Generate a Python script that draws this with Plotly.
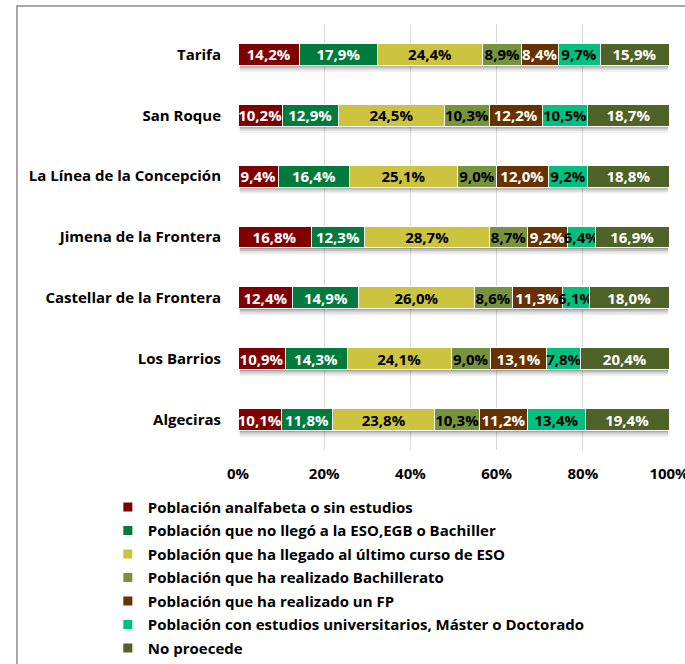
import plotly.graph_objects as go

# Municipalities (top to bottom)
municipios = [
    "Tarifa",
    "San Roque",
    "La Línea de la Concepción",
    "Jimena de la Frontera",
    "Castellar de la Frontera",
    "Los Barrios",
    "Algeciras",
]

# Education level shares (%) per municipality
analfabeta = [14.2, 10.2, 9.4, 16.8, 12.4, 10.9, 10.1]
no_eso = [17.9, 12.9, 16.4, 12.3, 14.9, 14.3, 11.8]
ultimo_eso = [24.4, 24.5, 25.1, 28.7, 26.0, 24.1, 23.8]
bachillerato = [8.9, 10.3, 9.0, 8.7, 8.6, 9.0, 10.3]
fp = [8.4, 12.2, 12.0, 9.2, 11.3, 13.1, 11.2]
universitarios = [9.7, 10.5, 9.2, 6.4, 6.1, 7.8, 13.4]
no_procede = [15.9, 18.7, 18.8, 16.9, 18.0, 20.4, 19.4]

series_names = [
    "Población analfabeta o sin estudios",
    "Población que no llegó a la ESO,EGB o Bachiller",
    "Población que ha llegado al último curso de ESO",
    "Población que ha realizado Bachillerato",
    "Población que ha realizado un FP",
    "Población con estudios universitarios, Máster o Doctorado",
    "No proecede",
]
series_values = [analfabeta, no_eso, ultimo_eso, bachillerato, fp, universitarios, no_procede]
series_colors = ["#7F0000", "#007A3D", "#CCC43E", "#77933C", "#663300", "#00C080", "#4F6228"]
label_colors = ["white", "white", "black", "black", "white", "black", "white"]

x_ticks = [0, 20, 40, 60, 80, 100]

FONT = "Open Sans"

fig = go.Figure()

for name, vals, col, tcol in zip(series_names, series_values, series_colors, label_colors):
    fig.add_trace(go.Bar(
        y=municipios,
        x=vals,
        orientation="h",
        name=name,
        marker=dict(color=col, line=dict(color="white", width=1)),
        text=[f"{v:.1f}%".replace(".", ",") for v in vals],
        textposition="inside",
        insidetextanchor="middle",
        constraintext="none",
        textangle=0,
        textfont=dict(family=FONT, size=15, color=tcol, weight="bold"),
        showlegend=False,
        hoverinfo="skip",
    ))

# Legend entries with small square swatches
for name, col in zip(series_names, series_colors):
    fig.add_trace(go.Scatter(
        x=[None], y=[None], mode="markers", name=name,
        legendgroup=name,
        marker=dict(symbol="square", size=9, color=col),
        showlegend=True,
    ))

# Soft drop shadow under each bar
half = 0.18
shadow_layers = [(0.02, 0.18), (0.05, 0.12), (0.08, 0.08), (0.11, 0.05)]
shapes = []
for i, _ in enumerate(municipios):
    for ext, op in shadow_layers:
        shapes.append(dict(
            type="rect", xref="x", yref="y", layer="between",
            x0=0.4, x1=99.8, y0=i, y1=i + half + ext,
            fillcolor="black", opacity=op, line=dict(width=0),
        ))

fig.update_layout(
    barmode="stack",
    barnorm="percent",
    bargap=0.64,
    width=685,
    height=664,
    margin=dict(l=238, r=16, t=24, b=214, autoexpand=False),
    paper_bgcolor="white",
    plot_bgcolor="white",
    shapes=shapes,
    font=dict(family=FONT, size=15, color="black"),
    xaxis=dict(
        range=[0, 100],
        tickvals=x_ticks,
        ticktext=[f"{t}%" for t in x_ticks],
        tickfont=dict(family=FONT, size=15, color="black", weight="bold"),
        showgrid=True, gridcolor="#D9D9D9", gridwidth=1,
        zeroline=False, showline=False, ticks="",
        ticklabelstandoff=13,
        ticklabeloverflow="allow",
        automargin=False,
        fixedrange=True,
    ),
    yaxis=dict(
        categoryorder="array",
        categoryarray=municipios,
        autorange="reversed",
        tickfont=dict(family=FONT, size=15, color="black", weight="bold"),
        showgrid=False, zeroline=False, showline=False, ticks="",
        ticklabelstandoff=16,
        automargin=False,
        fixedrange=True,
    ),
    legend=dict(
        orientation="v",
        x=-0.302, xanchor="left",
        y=-0.0954, yanchor="top",
        font=dict(family=FONT, size=15, color="black", weight="bold"),
        tracegroupgap=1,
        bgcolor="rgba(0,0,0,0)",
        itemclick=False, itemdoubleclick=False,
    ),
)

# Outer chart border
fig.add_shape(
    type="rect", xref="paper", yref="paper", layer="above",
    x0=(17 - 238) / 431, x1=(700 - 238) / 431,
    y0=-(680 - 450) / 426, y1=1 + (24 - 6) / 426,
    line=dict(color="#8C8C8C", width=1.5), fillcolor="rgba(0,0,0,0)",
)

fig.write_html("out.html")
